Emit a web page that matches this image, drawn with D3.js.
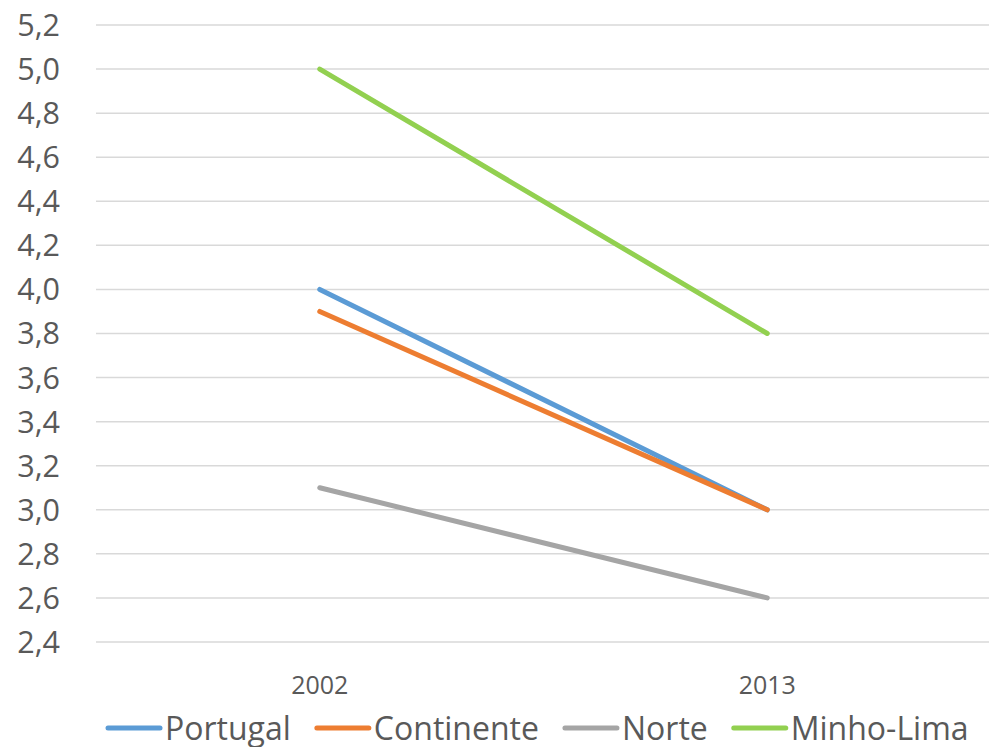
<!DOCTYPE html>
<html>
<head>
<meta charset="utf-8">
<script src="https://cdn.jsdelivr.net/npm/d3@7"></script>
<style>
  body { margin: 0; background: #fff; }
  text { font-family: "Open Sans", sans-serif; fill: #595959; }
</style>
</head>
<body>
<div id="vis"></div>
<script>
// data
let years = ['2002', '2013']
let series = ['Portugal', 'Continente', 'Norte', 'Minho-Lima']
let colors = ['#5B9BD5', '#ED7D31', '#A5A5A5', '#92D050']
let portugal = [4.0, 3.0]
let continente = [3.9, 3.0]
let norte = [3.1, 2.6]
let minhoLima = [5.0, 3.8]
let yTicks = [2.4, 2.6, 2.8, 3.0, 3.2, 3.4, 3.6, 3.8, 4.0, 4.2, 4.4, 4.6, 4.8, 5.0, 5.2]

let values = [portugal, continente, norte, minhoLima]

let W = 989, H = 747
let margin = { top: 25, left: 96, right: 0, bottom: 105 }
let width = W - margin.left - margin.right + 2,
    height = H - margin.top - margin.bottom

let svg = d3.select('#vis')
  .append('svg')
  .attr('width', W)
  .attr('height', H)

let g = svg.append('g')
  .attr('transform', 'translate(' + margin.left + ',' + margin.top + ')')

let xScale = d3.scalePoint()
  .domain(years)
  .range([0, width])
  .padding(0.5)

let yScale = d3.scaleLinear()
  .domain([2.4, 5.2])
  .range([height, 0])

// gridlines
g.selectAll('.grid')
  .data(yTicks)
  .enter()
  .append('line')
    .attr('x1', 0)
    .attr('x2', width)
    .attr('y1', d => yScale(d))
    .attr('y2', d => yScale(d))
    .attr('stroke', '#D9D9D9')
    .attr('stroke-width', 1.5)

// y labels
let fmt = d => d.toFixed(1).replace('.', ',')
g.selectAll('.ylab')
  .data(yTicks)
  .enter()
  .append('text')
    .attr('x', -36)
    .attr('y', d => yScale(d))
    .attr('dy', '0.36em')
    .style('text-anchor', 'end')
    .style('font-size', '30.5px')
    .text(fmt)

// x labels
g.selectAll('.xlab')
  .data(years)
  .enter()
  .append('text')
    .attr('x', d => xScale(d))
    .attr('y', height + 52)
    .style('text-anchor', 'middle')
    .style('font-size', '25px')
    .text(d => d)

// lines
let line = d3.line()
  .x((d, i) => xScale(years[i]))
  .y(d => yScale(d))

g.selectAll('.series')
  .data(values)
  .enter()
  .append('path')
    .attr('d', line)
    .attr('fill', 'none')
    .attr('stroke', (d, i) => colors[i])
    .attr('stroke-width', 5)
    .attr('stroke-linecap', 'round')

// legend
let legend = svg.append('g')
let lx = 0
series.forEach(function (s, i) {
  let item = legend.append('g').attr('transform', 'translate(' + lx + ',0)')
  item.append('line')
    .attr('x1', 0).attr('x2', 52)
    .attr('y1', 0).attr('y2', 0)
    .attr('stroke', colors[i])
    .attr('stroke-width', 5)
    .attr('stroke-linecap', 'round')
  let t = item.append('text')
    .attr('x', 57)
    .attr('dy', '0.36em')
    .style('font-size', '32px')
    .text(s)
  lx += 57 + t.node().getComputedTextLength() + 26
})
legend.attr('transform', 'translate(108,728)')
</script>
</body>
</html>
